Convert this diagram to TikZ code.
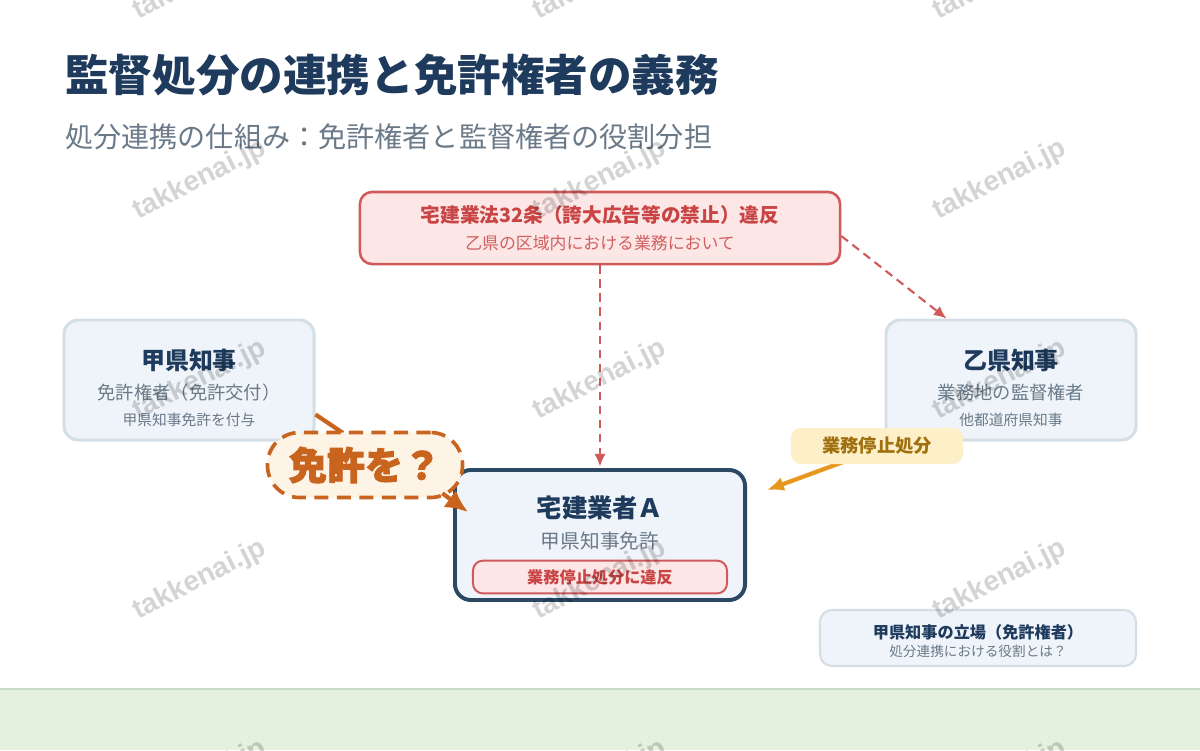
\documentclass[tikz,border=0pt]{standalone}
\usepackage{fontspec}
\setmainfont{Noto Sans CJK JP}
\newfontfamily\heavyfont{Noto Sans CJK JP}[BoldFeatures={FakeBold=2.5}]
\newfontfamily\wmfont{Liberation Sans}
\usetikzlibrary{arrows.meta,positioning,calc}
\definecolor{kanavy}{HTML}{1E3A5C}
\definecolor{kagray}{HTML}{6B7A89}
\definecolor{karedline}{HTML}{D0595A}
\definecolor{karedfill}{HTML}{FCE6E6}
\definecolor{karedtext}{HTML}{C94444}
\definecolor{kapanefill}{HTML}{EEF4F9}
\definecolor{kapaneline}{HTML}{D3DEE7}
\definecolor{kacenter}{HTML}{2B4864}
\definecolor{kaorange}{HTML}{C8641E}
\definecolor{kabubble}{HTML}{FEF4E6}
\definecolor{kaamber}{HTML}{E8971E}
\definecolor{kalabel}{HTML}{FDF0C9}
\definecolor{kalabeltext}{HTML}{A0700E}
\definecolor{kagreen}{HTML}{E4F1DF}
\definecolor{kagreenline}{HTML}{C7DAC2}

\begin{document}
\begin{tikzpicture}[x=0.025cm,y=-0.025cm,>=Latex]
        \tikzset{pane/.style={draw=kapaneline,fill=kapanefill,line width=2.1pt,rounded corners=0.35cm,minimum width=6.25cm,minimum height=3cm},
          head/.style={font=\bfseries\fontsize{17}{20}\selectfont,text=kanavy},
          sub/.style={font=\fontsize{13}{16}\selectfont,text=kagray},
          note/.style={font=\fontsize{10.5}{13}\selectfont,text=kagray},
          redbox/.style={draw=karedline,fill=karedfill,line width=1.8pt,rounded corners=0.3cm},
          wmark/.style={font=\wmfont\bfseries\fontsize{20}{24}\selectfont,text=black,text opacity=.17,rotate=27}}
        \useasboundingbox (0,0) rectangle (1200,750);
        \clip (0,0) rectangle (1200,750);
        \fill[white] (0,0) rectangle (1200,750);
        \fill[kagreen] (0,689) rectangle (1200,750);
        \draw[kagreenline,line width=1.4pt] (0,689) -- (1200,689);
        % title
        \node[anchor=west,font=\bfseries\fontsize{31}{36}\selectfont,text=kanavy,inner sep=0] (title) at (65,75) {監督処分の連携と免許権者の義務};
        \node[anchor=west,font=\fontsize{20}{24}\selectfont,text=kagray,inner sep=0] (subtitle) at (65,137) {処分連携の仕組み：免許権者と監督権者の役割分担};
        % violation
        \node[redbox,minimum width=12cm,minimum height=1.8cm] (ihan) at (600,228) {};
        \node[font=\bfseries\fontsize{14}{17}\selectfont,text=karedtext] (ihan1) at (600,215) {宅建業法32条（誇大広告等の禁止）違反};
        \node[font=\fontsize{12}{15}\selectfont,text=karedtext!85] (ihan2) at (600,243) {乙県の区域内における業務において};
        % governors
        \node[pane] (kou) at (189,380) {};
        \node[head] (kou1) at ($(kou)+(0,-20)$) {甲県知事};
        \node[sub] (kou2) at ($(kou)+(0,13)$) {免許権者（免許交付）};
        \node[note] (kou3) at ($(kou)+(0,40)$) {甲県知事免許を付与};
        \node[pane] (otsu) at (1011,380) {};
        \node[head] (otsu1) at ($(otsu)+(0,-20)$) {乙県知事};
        \node[sub] (otsu2) at ($(otsu)+(0,13)$) {業務地の監督権者};
        \node[note] (otsu3) at ($(otsu)+(0,40)$) {他都道府県知事};
        % licensee
        \node[draw=kacenter,fill=kapanefill,line width=2.8pt,rounded corners=0.4cm,minimum width=7.25cm,minimum height=3.25cm] (gyousha) at (600,535) {};
        \node[head,font=\bfseries\fontsize{18}{21}\selectfont] (gyousha1) at (600,508) {宅建業者Ａ};
        \node[sub,font=\fontsize{14}{17}\selectfont] (gyousha2) at (600,541) {甲県知事免許};
        \node[redbox,line width=1.4pt,rounded corners=0.25cm,minimum width=6.35cm,minimum height=0.82cm,font=\bfseries\fontsize{11.5}{14}\selectfont,text=karedtext,inner sep=0] (teishi-ihan) at (600,577) {業務停止処分に違反};
        % connectors
        \draw[-{Latex[length=9pt,width=8pt]},karedline,line width=1.5pt,dash pattern=on 6pt off 4pt,shorten >=1pt] (ihan.south) -- (gyousha.north);
        \draw[-{Latex[length=9pt,width=8pt]},karedline,line width=1.5pt,dash pattern=on 6pt off 4pt] ($(ihan.east)+(0,8)$) -- ($(otsu.north west)+(62,0)$);
        \draw[-{Latex[length=12pt,width=10pt]},kaamber,line width=3pt] ($(otsu.south west)+(-40,20)$) -- ($(gyousha.east)+(20,-45)$);
        \node[fill=kalabel,rounded corners=0.25cm,minimum width=4.3cm,minimum height=0.9cm,font=\bfseries\fontsize{13}{16}\selectfont,text=kalabeltext] (teishi) at (877,446) {業務停止処分};
        \draw[kaorange,line width=3pt] ($(kou.south east)+(0,-27)$) -- (343,433) coordinate (tail);
        \node[draw=kaorange,fill=kabubble,line width=2.6pt,dash pattern=on 10pt off 6pt,rounded corners=0.8cm,minimum width=4.875cm,minimum height=1.625cm,font=\heavyfont\bfseries\fontsize{27}{30}\selectfont,text=kaorange] (bubble) at (365,465) {免許を？};
        \draw[-{Latex[length=16pt,width=15pt]},kaorange,line width=3pt] ($(bubble.south east)+(-22,-6)$) -- ($(gyousha.north west)+(15,44)$);
        % note
        \node[draw=kapaneline,fill=kapanefill,line width=1.5pt,rounded corners=0.3cm,minimum width=7.9cm,minimum height=1.4cm] (tachiba) at (978,638) {};
        \node[font=\bfseries\fontsize{11.5}{14}\selectfont,text=kanavy] (tachiba1) at (978,632) {甲県知事の立場（免許権者）};
        \node[font=\fontsize{9.7}{12}\selectfont,text=kagray] (tachiba2) at (978,651) {処分連携における役割とは？};
        % watermark
        \foreach \x in {200,600,1000}
          \foreach \y in {-20,180,380,580,780}
            \node[wmark] at (\x,\y) {takkenai.jp};
      \end{tikzpicture}
\end{document}
